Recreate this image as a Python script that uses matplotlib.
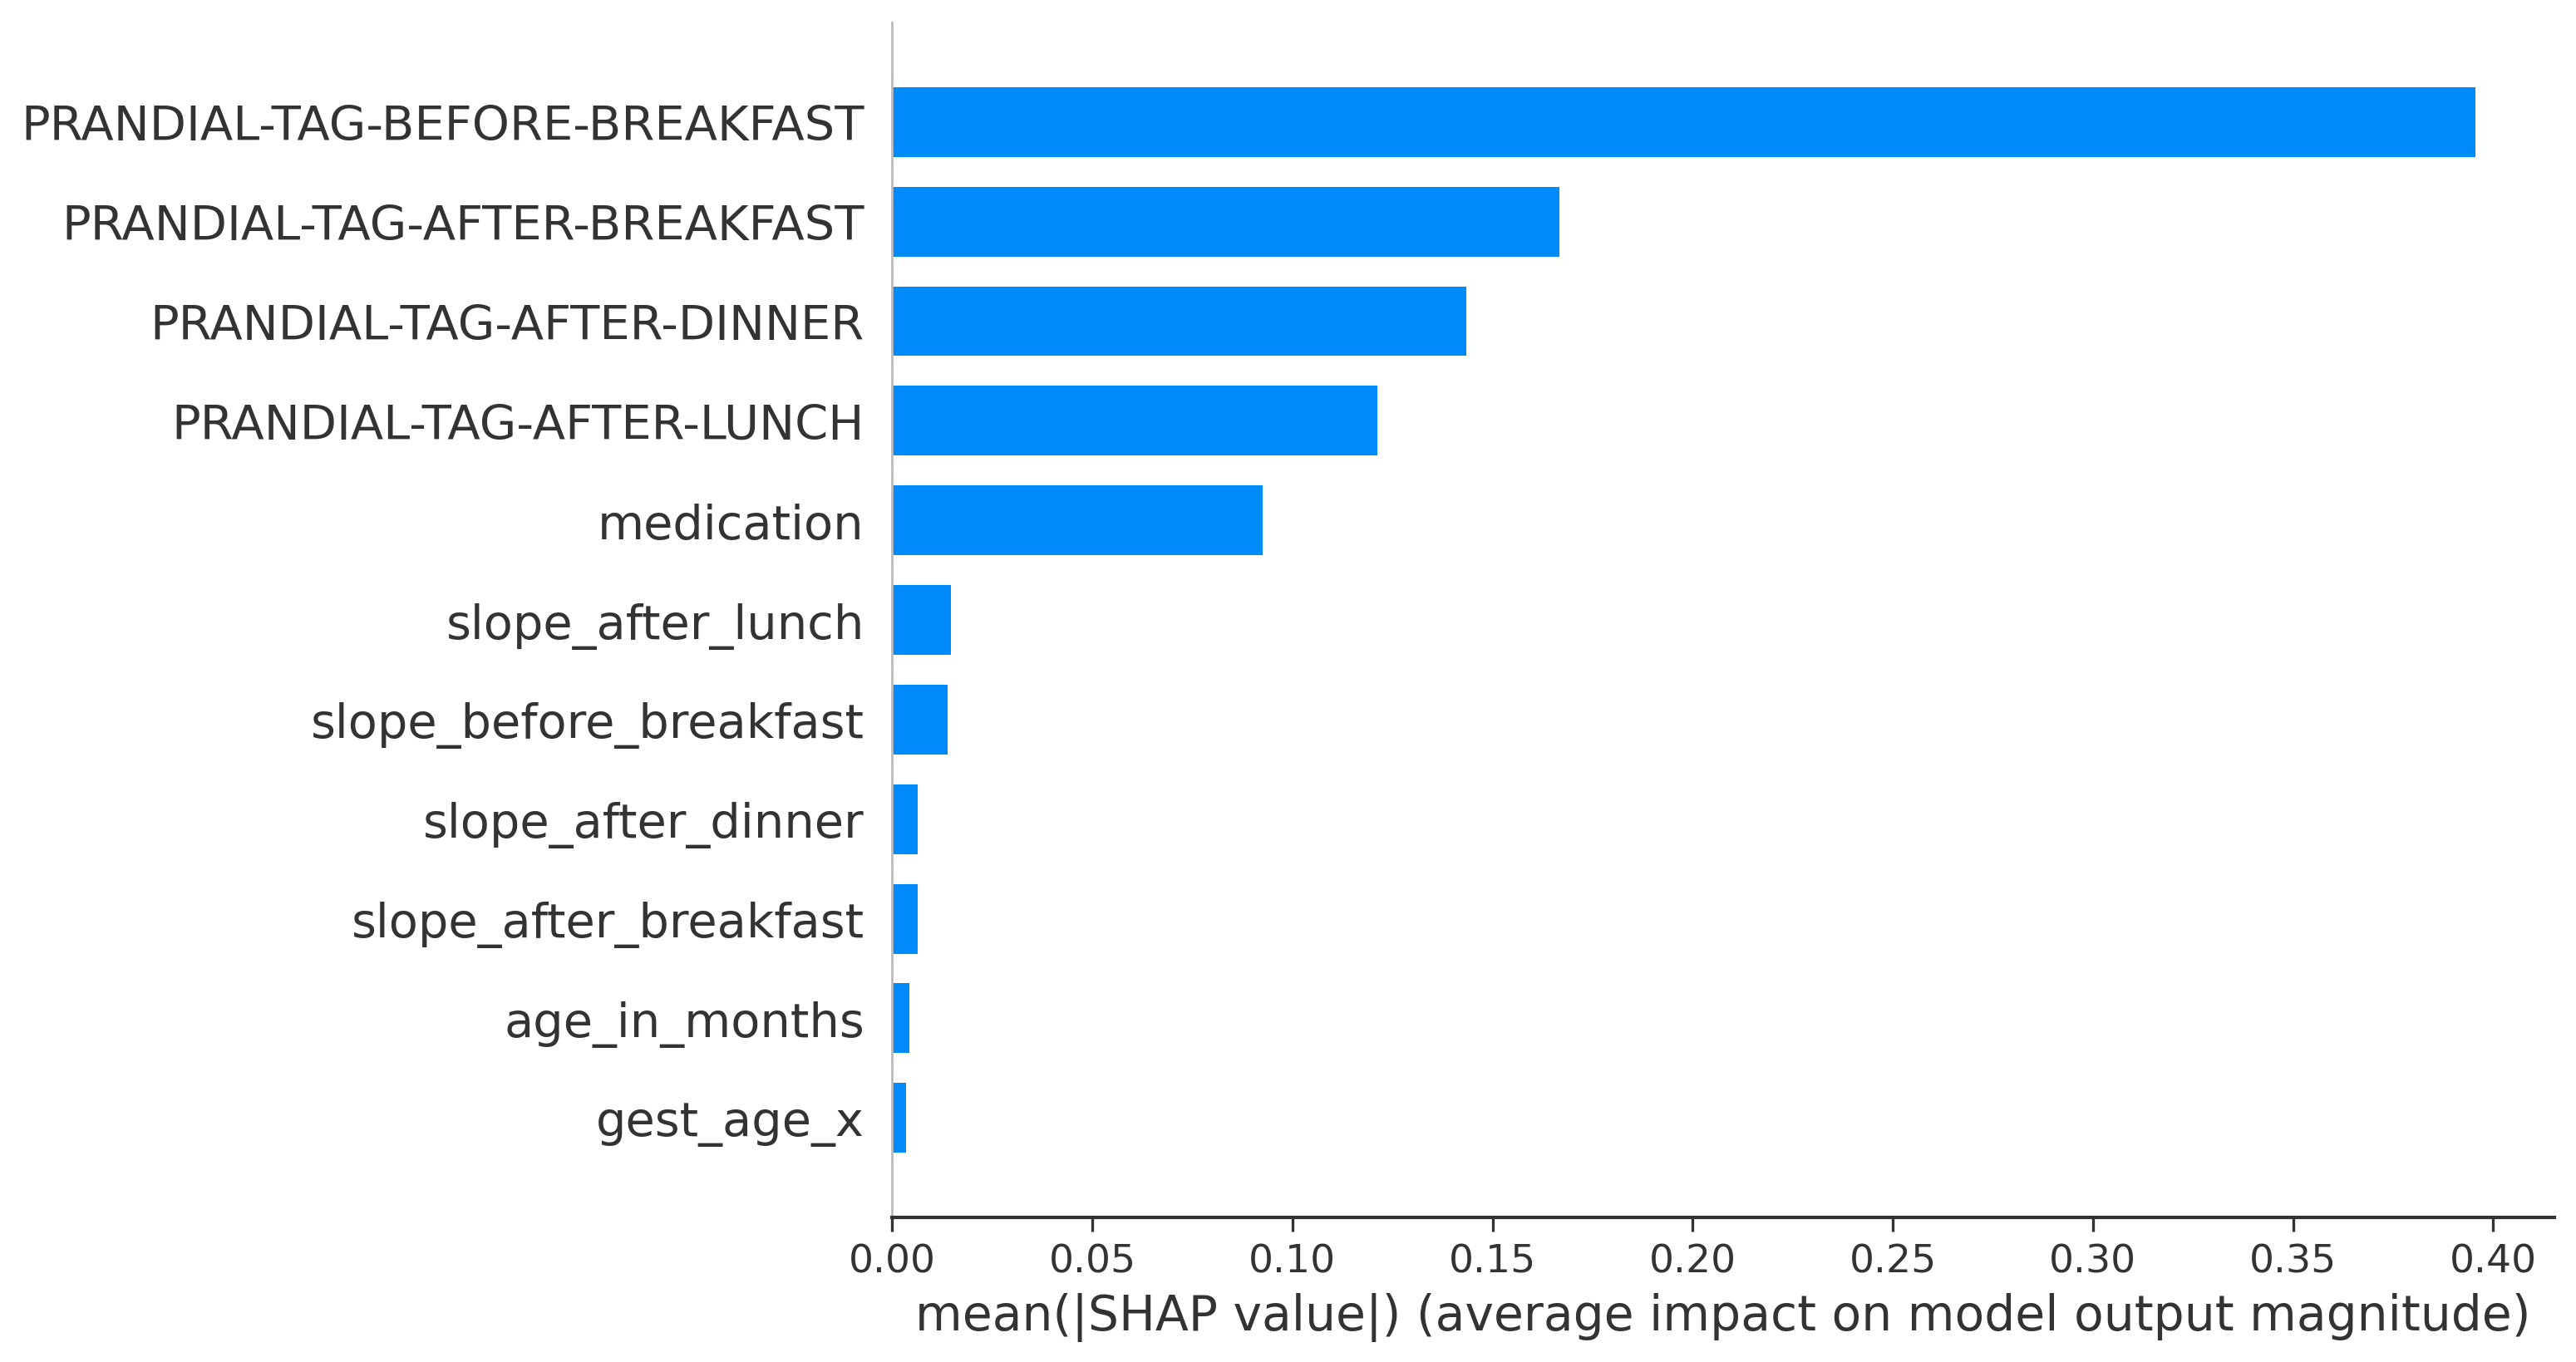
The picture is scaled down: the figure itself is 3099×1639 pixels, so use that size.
import matplotlib.pyplot as plt

# Mean |SHAP| per feature, listed bottom to top as drawn
features = ['gest_age_x', 'age_in_months', 'slope_after_breakfast', 'slope_after_dinner',
            'slope_before_breakfast', 'slope_after_lunch', 'medication',
            'PRANDIAL-TAG-AFTER-LUNCH', 'PRANDIAL-TAG-AFTER-DINNER',
            'PRANDIAL-TAG-AFTER-BREAKFAST', 'PRANDIAL-TAG-BEFORE-BREAKFAST']
mean_shap = [0.0035, 0.0044, 0.0063, 0.0064, 0.0138, 0.0148, 0.0926,
             0.1213, 0.1435, 0.1668, 0.3955]
xticks = [0.00, 0.05, 0.10, 0.15, 0.20, 0.25, 0.30, 0.35, 0.40]

fig = plt.figure(figsize=(15.495, 8.2), dpi=200)
ax = fig.add_axes([0.3463, 0.106, 0.6453, 0.877])

y_pos = range(len(features))
ax.barh(y_pos, mean_shap, 0.7, align='center', color='#008bfb')

ax.set_ylim(-1, len(features))
ax.set_yticks(list(y_pos))
ax.set_yticklabels(features, fontsize=20.7, color='#333333')
ax.tick_params(axis='y', length=0, pad=12)

ax.set_xticks(xticks)
ax.set_xticklabels([f'{t:.2f}' for t in xticks], fontsize=17, color='#333333')
ax.tick_params(axis='x', length=6, width=1.2, color='#333333', pad=5)
ax.set_xlabel('mean(|SHAP value|) (average impact on model output magnitude)',
              fontsize=21, color='#333333', labelpad=5)

ax.spines['top'].set_visible(False)
ax.spines['right'].set_visible(False)
ax.spines['bottom'].set_color('#333333')
ax.spines['bottom'].set_linewidth(1.5)
ax.spines['left'].set_color('#bbbbbb')
ax.spines['left'].set_linewidth(1.0)

fig.savefig('out.png', dpi=200, facecolor='white')
